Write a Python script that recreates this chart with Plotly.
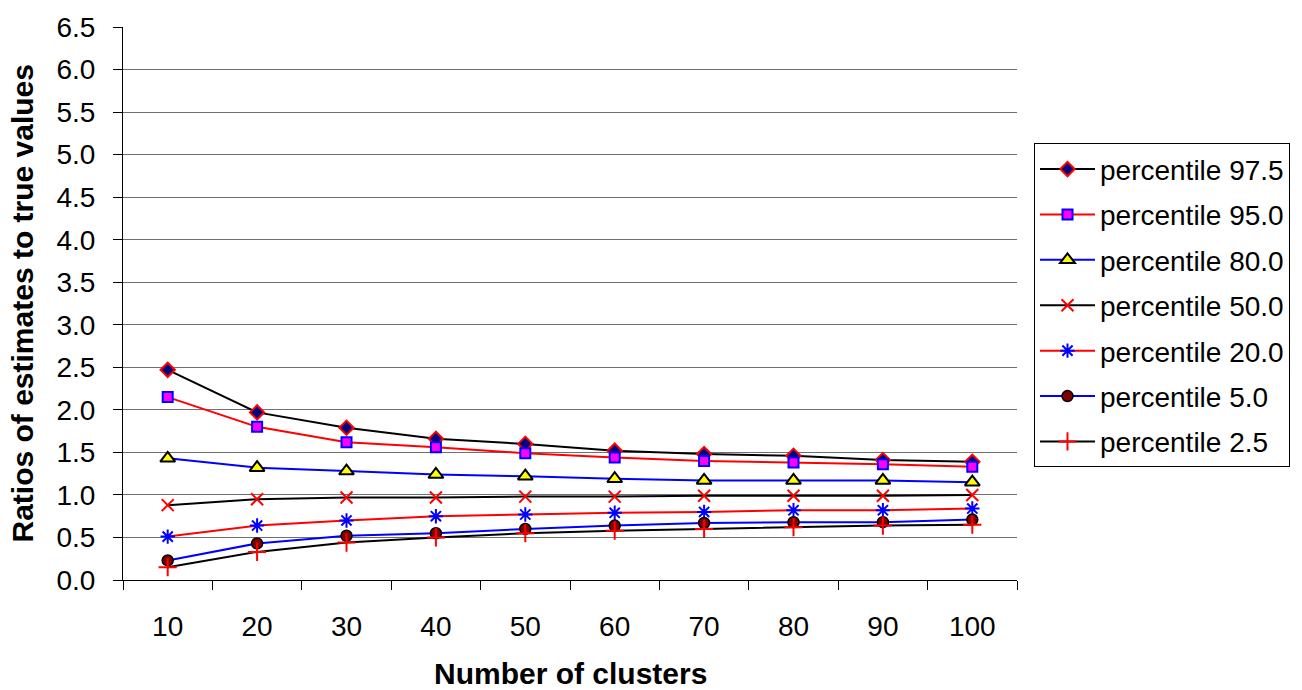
import plotly.graph_objects as go

clusters = ["10", "20", "30", "40", "50", "60", "70", "80", "90", "100"]
p97_5 = [2.47, 1.97, 1.79, 1.66, 1.60, 1.52, 1.48, 1.46, 1.41, 1.39]
p95_0 = [2.15, 1.80, 1.62, 1.56, 1.49, 1.44, 1.40, 1.38, 1.36, 1.33]
p80_0 = [1.43, 1.32, 1.28, 1.24, 1.22, 1.19, 1.17, 1.17, 1.17, 1.15]
p50_0 = [0.88, 0.95, 0.97, 0.97, 0.98, 0.98, 0.99, 0.99, 0.99, 1.00]
p20_0 = [0.51, 0.64, 0.70, 0.75, 0.77, 0.79, 0.80, 0.82, 0.82, 0.84]
p5_0 = [0.23, 0.43, 0.52, 0.55, 0.60, 0.64, 0.67, 0.68, 0.68, 0.71]
p2_5 = [0.15, 0.33, 0.44, 0.50, 0.55, 0.58, 0.60, 0.62, 0.64, 0.65]

names = ["percentile 97.5", "percentile 95.0", "percentile 80.0", "percentile 50.0",
         "percentile 20.0", "percentile 5.0", "percentile 2.5"]
series = [p97_5, p95_0, p80_0, p50_0, p20_0, p5_0, p2_5]
y_ticks = [0.0, 0.5, 1.0, 1.5, 2.0, 2.5, 3.0, 3.5, 4.0, 4.5, 5.0, 5.5, 6.0, 6.5]
grid_vals = y_ticks[1:-1]

styles = [
    dict(line="black", symbol="diamond", size=11, fill="#000080", edge="red", ew=2),
    dict(line="red", symbol="square", size=10, fill="#FF00FF", edge="blue", ew=2),
    dict(line="blue", symbol="triangle-up", size=13, fill="yellow", edge="black", ew=2),
    dict(line="black", symbol="x-thin", size=12, fill="red", edge="red", ew=2),
    dict(line="red", symbol="asterisk", size=12, fill="blue", edge="blue", ew=2),
    dict(line="blue", symbol="circle", size=11, fill="#800000", edge="black", ew=1.5),
    dict(line="black", symbol="cross-thin", size=13, fill="red", edge="red", ew=2),
]

FONT = "Liberation Sans, Arial, sans-serif"
fig = go.Figure()

# empty helper trace so the overlaid grid axis is drawn
fig.add_trace(go.Scatter(x=[], y=[], yaxis="y2", showlegend=False, hoverinfo="skip"))

for i, (nm, vals, st) in enumerate(zip(names, series, styles)):
    fig.add_trace(go.Scatter(
        x=clusters, y=vals, name=nm, mode="lines+markers", legendgroup=f"g{i}",
        line=dict(color=st["line"], width=2),
        marker=dict(symbol=st["symbol"], size=st["size"], color=st["fill"],
                    line=dict(color=st["edge"], width=st["ew"])),
    ))

L, R, T, B = 123, 285, 24, 110
W, H = 1302, 690
pw = W - L - R
ph = H - T - B

fig.update_layout(
    width=W, height=H,
    margin=dict(l=L, r=R, t=T, b=B),
    paper_bgcolor="white", plot_bgcolor="white",
    font=dict(family=FONT, size=28, color="black"),
    showlegend=True,
    legend=dict(
        x=(1034 - L) / pw, y=(H - B - 141) / ph, xanchor="left", yanchor="top",
        bordercolor="black", borderwidth=1, bgcolor="white",
        font=dict(family=FONT, size=28, color="black"),
        tracegroupgap=6, itemwidth=55,
    ),
    xaxis=dict(
        type="category", range=[-0.5, 9.5], tickson="boundaries",
        ticks="outside", ticklen=9, tickcolor="black", tickwidth=1,
        showline=True, linecolor="black", linewidth=1,
        showgrid=False, zeroline=False,
        tickfont=dict(family=FONT, size=28), ticklabelstandoff=21,
    ),
    yaxis=dict(
        range=[0, 6.5], tickvals=y_ticks, ticktext=[f"{v:.1f}" for v in y_ticks],
        ticks="outside", ticklen=9, tickcolor="black", tickwidth=1,
        showline=True, linecolor="black", linewidth=1,
        showgrid=False, zeroline=False,
        tickfont=dict(family=FONT, size=28), ticklabelstandoff=12,
    ),
    yaxis2=dict(
        overlaying="y", side="left", range=[0, 6.5], tickvals=grid_vals,
        showticklabels=False, ticks="", showgrid=True, gridcolor="#707070",
        gridwidth=1, showline=False, zeroline=False,
    ),
    annotations=[
        dict(text="<b>Number of clusters</b>", xref="paper", yref="paper",
             x=0.5, y=(H - B - 674) / ph, xanchor="center", yanchor="middle",
             showarrow=False, font=dict(family=FONT, size=30, color="black")),
        dict(text="<b>Ratios of estimates to true values</b>", xref="paper", yref="paper",
             x=(22 - L) / pw, y=0.5, xanchor="center", yanchor="middle", textangle=-90,
             showarrow=False, font=dict(family=FONT, size=30, color="black")),
    ],
)

fig.write_html("out.html")
